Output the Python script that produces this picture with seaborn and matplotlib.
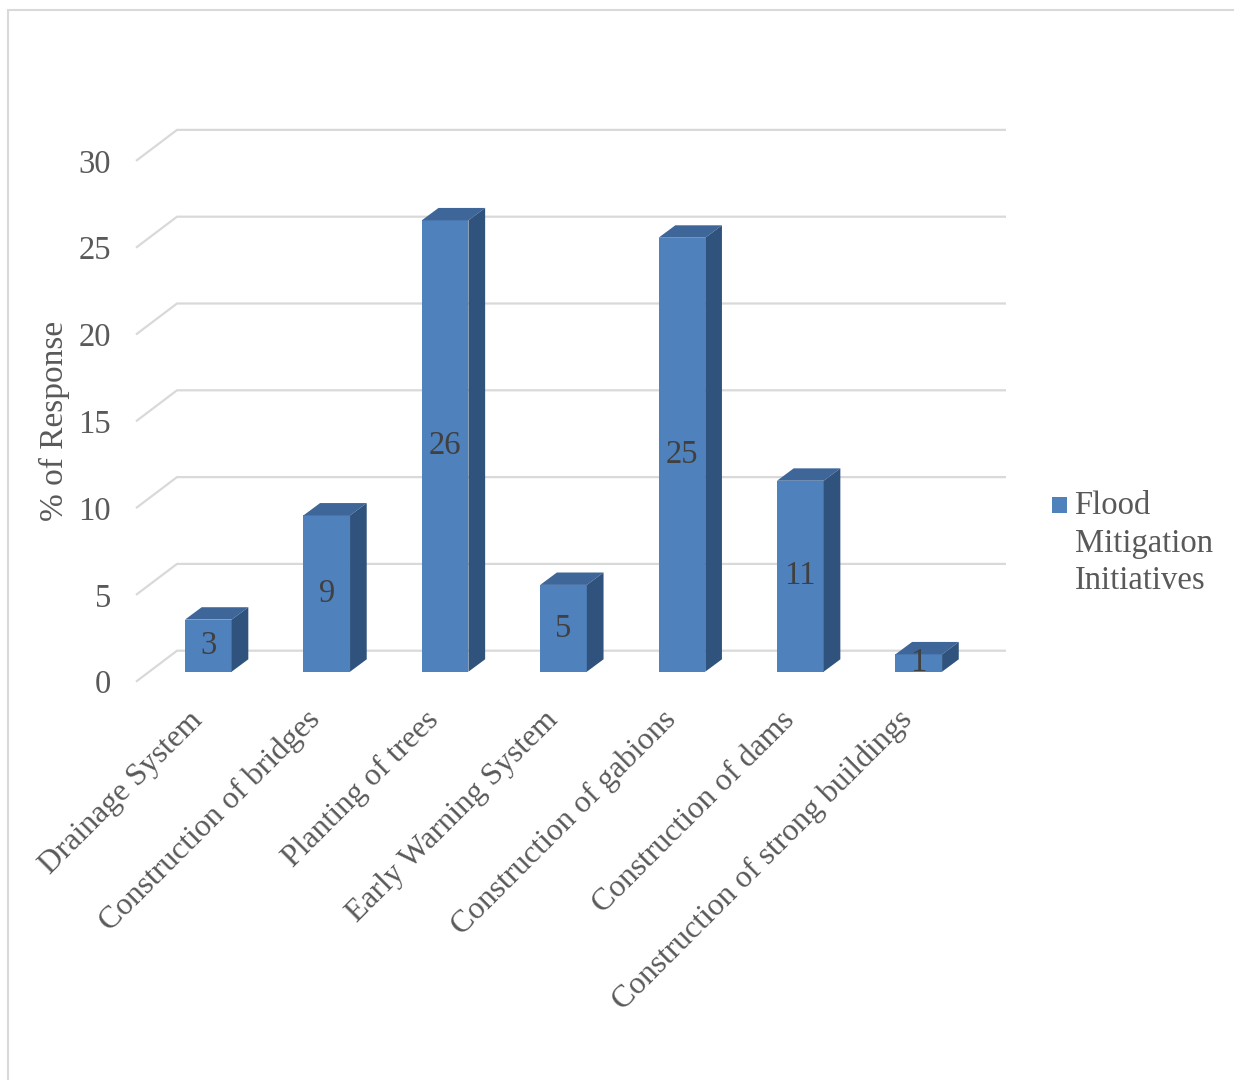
import matplotlib
matplotlib.use("Agg")
import matplotlib.pyplot as plt
from matplotlib.patches import Polygon, Rectangle, Patch
from matplotlib.legend_handler import HandlerPatch
import pandas as pd
import seaborn as sns

# ---- data -------------------------------------------------------------
categories = [
    "Drainage System",
    "Construction of bridges",
    "Planting of trees",
    "Early Warning System",
    "Construction of gabions",
    "Construction of dams",
    "Construction of strong buildings",
]
responses = [3, 9, 26, 5, 25, 11, 1]
y_ticks = [0, 5, 10, 15, 20, 25, 30]
series_name = "Flood\nMitigation\nInitiatives"
y_title = "% of Response"

# ---- style ------------------------------------------------------------
FRONT = "#4f81bd"
TOP = "#3e6698"
SIDE = "#30537d"
GRID = "#d9d9d9"
TEXT = "#595959"
VALUE = "#404040"
FS = 23.5

sns.set_theme(style="white")
plt.rcParams["font.family"] = ["Liberation Serif", "DejaVu Serif"]

W, H, DPI = 1234, 1080, 100
fig = plt.figure(figsize=(W / DPI, H / DPI), dpi=DPI)
ax_l, ax_r, ax_t, ax_b = 136, 1006, 120, 690  # axes box in pixels
ax = fig.add_axes([ax_l / W, 1 - ax_b / H, (ax_r - ax_l) / W, (ax_b - ax_t) / H])

df = pd.DataFrame({"initiative": categories, "response": responses})
sns.barplot(data=df, x="initiative", y="response", color=FRONT, saturation=1,
            width=0.394, linewidth=0, ax=ax, zorder=3)

# axis limits chosen so one category step = 118.4 px and one unit = 17.36 px
xlim = (-0.6106, 6.737)
ylim = (-1.054, 31.78)
ax.set_xlim(*xlim)
ax.set_ylim(*ylim)
sx = (xlim[1] - xlim[0]) / (ax_r - ax_l)   # data units per pixel
sy = (ylim[1] - ylim[0]) / (ax_b - ax_t)

# depth offsets (pixels, right / up) relative to the bar front plane
bar_dx, bar_dy = 16.7, 12.4
wall_dx, wall_dy = 27.8, 21.0
edge_dx, edge_dy = -13.2, -10.0

# back-wall gridlines with floor diagonals
for v in y_ticks:
    xs = [xlim[0], xlim[0] + (wall_dx - edge_dx) * sx, xlim[1]]
    ys = [v + edge_dy * sy, v + wall_dy * sy, v + wall_dy * sy]
    ax.plot(xs, ys, color=GRID, lw=1.6, zorder=1, clip_on=False,
            solid_capstyle="butt")

# top and side faces for each bar
bdx, bdy = bar_dx * sx, bar_dy * sy
for p in ax.patches:
    x0, w, h = p.get_x(), p.get_width(), p.get_height()
    ax.add_patch(Polygon([(x0, h), (x0 + w, h), (x0 + w + bdx, h + bdy), (x0 + bdx, h + bdy)],
                         closed=True, facecolor=TOP, edgecolor="none", zorder=3))
    ax.add_patch(Polygon([(x0 + w, 0), (x0 + w + bdx, bdy), (x0 + w + bdx, h + bdy), (x0 + w, h)],
                         closed=True, facecolor=SIDE, edgecolor="none", zorder=3))

for c in ax.containers:
    ax.bar_label(c, label_type="center", fontsize=FS, color=VALUE, zorder=5)

# y ticks sit at the front edge of the floor diagonals
ax.set_yticks([v + edge_dy * sy for v in y_ticks], [str(v) for v in y_ticks])
ax.tick_params(axis="y", length=0, pad=18, labelsize=FS, labelcolor=TEXT)
ax.set_xticks(range(len(categories)))
ax.set_xticklabels(categories, rotation=45, ha="right", va="bottom",
                   rotation_mode="anchor")
ax.tick_params(axis="x", length=0, pad=26, labelsize=22.8, labelcolor=TEXT)
ax.set_xlabel("")
ax.set_ylabel(y_title, fontsize=24, color=TEXT)
ax.yaxis.set_label_coords((70 - ax_l) / (ax_r - ax_l), (ax_b - 421) / (ax_b - ax_t))
for s in ax.spines.values():
    s.set_visible(False)
ax.set_facecolor("none")


def top_square(legend, orig_handle, xdescent, ydescent, width, height, fontsize):
    sq = 0.47 * fontsize
    return Rectangle((-xdescent, -ydescent + height - sq + 0.39 * fontsize), sq, sq)


leg = ax.legend(handles=[Patch(facecolor=FRONT, edgecolor="none")], labels=[series_name],
                loc="upper left", bbox_to_anchor=(1052 / W, 1 - 491 / H),
                bbox_transform=fig.transFigure, frameon=False, fontsize=FS,
                handlelength=0.47, handleheight=3.0, handletextpad=0.22,
                borderpad=0, borderaxespad=0,
                handler_map={Patch: HandlerPatch(patch_func=top_square)})
for t in leg.get_texts():
    t.set_color(TEXT)
    t.set_linespacing(1.29)

# light outer frame
fig.add_artist(Rectangle((8 / W, -0.1), 2, 1 - 10 / H + 0.1, transform=fig.transFigure,
                         fill=False, edgecolor=GRID, lw=1.5))

fig.savefig("out.png", dpi=DPI)
